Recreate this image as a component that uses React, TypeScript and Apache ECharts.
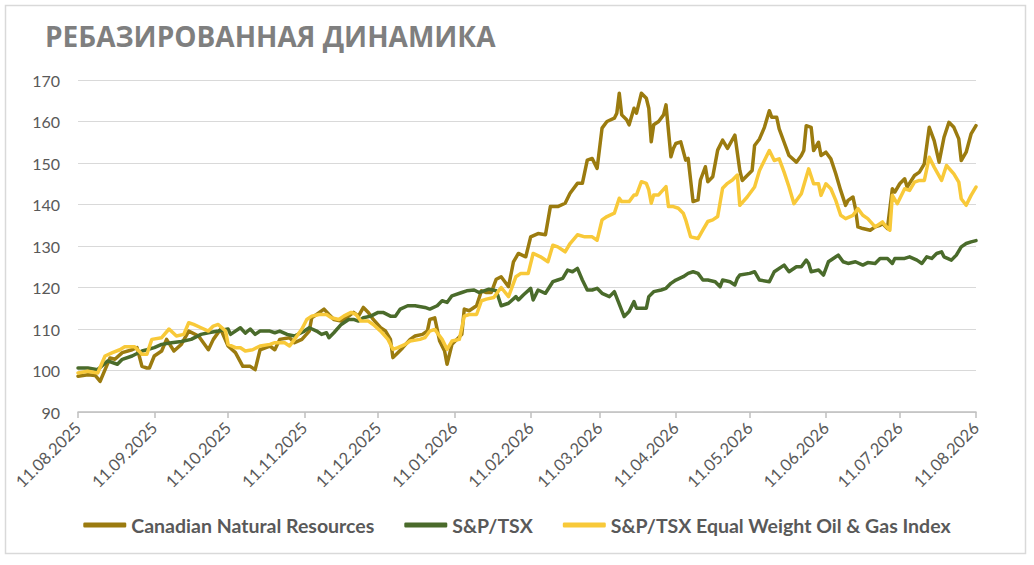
import React, { useEffect, useRef } from "react";
import * as echarts from "echarts";

const TITLE = "РЕБАЗИРОВАННАЯ ДИНАМИКА";
const SERIES_NAMES = ["Canadian Natural Resources", "S&P/TSX", "S&P/TSX Equal Weight Oil & Gas Index"];
const COLORS = ["#9B7B0F", "#4A6B2B", "#F8C939"];
const START_UTC = Date.UTC(2025, 7, 11);
const DAY_COUNT = 366;
const Y_MIN = 90;
const Y_MAX = 170;
const Y_STEP = 10;

// day offsets from 11.08.2025 and values
const cnrDays = [0,4,7,9,11,13,15,18,22,24,26,28,29,31,34,36,39,42,45,49,53,55,58,61,64,67,70,72,74,78,80,82,86,88,91,94,95,97,100,102,104,107,110,112,114,116,118,120,123,125,127,128,130,132,135,137,140,142,143,145,146,147,149,150,152,154,156,157,159,162,164,166,168,170,172,175,177,179,182,184,187,190,192,195,198,200,203,205,207,209,211,213,215,218,219,220,221,223,224,226,227,229,231,232,233,234,236,238,239,241,242,243,245,247,248,250,252,253,255,256,258,260,262,264,267,269,270,274,275,277,279,281,282,284,285,287,289,292,294,295,296,298,299,301,302,304,306,308,310,312,313,315,316,317,319,322,324,326,327,329,331,332,334,336,337,340,342,344,346,348,350,352,354,356,358,359,361,363,365];
const cnrValues = [98.6,99,98.8,97.4,100.2,103,102.7,104.3,105,105.5,101,100.6,100.6,103.5,104.7,107.5,104.7,106.3,109.5,108.3,105,107.5,110,105.9,104.3,101,101,100.2,105,105.9,105,107.5,107.9,106.7,107.5,109.5,112.7,113.5,114.8,113.5,112.3,111.9,113.1,114,113.1,115.2,114,112.3,110.3,109.5,107.5,103.1,104.3,105.5,107.5,108.3,108.7,109.5,112.3,112.7,109.9,107.1,104.7,101.5,106.3,107.5,108.7,114.8,114.4,115.6,119.2,118.8,118.8,122,122.6,120.2,126.2,128.2,127.4,132.2,133,132.7,139.5,139.5,140.3,142.7,145.1,145.1,150.7,151.1,148.7,158.4,160,160.8,162,166.8,161.6,160.4,159.2,163.2,162,166.8,165.6,163.2,155.1,159.2,160,161.6,164,151.5,153.5,154.7,155.1,150.7,151.1,140.7,141.1,145.9,149.1,145.5,146.7,153.1,155.5,153.5,156.7,148.2,145.8,148.2,154.2,155.8,158.6,162.6,161,161,158.2,155,151.8,150.2,151.8,153,159,158.6,153,155,151.8,152.6,151,147.4,143.4,139.8,141,141.8,139,134.6,134.2,133.8,134.6,135,135.4,134.2,143.8,143,145,146.2,144.2,147,147.8,149.8,158.6,155.4,150.2,156.2,159.8,158.6,155.8,150.6,152.6,157,159];

const tsxDays = [0,4,8,12,16,18,22,26,28,31,34,38,42,46,50,53,57,61,62,66,68,70,72,74,78,80,82,85,88,92,94,97,99,101,102,104,107,110,112,114,116,119,122,124,127,129,131,134,137,141,143,146,148,150,152,156,158,161,163,165,167,170,172,175,178,179,181,184,185,187,190,193,195,197,199,201,203,205,207,209,211,213,216,218,222,224,226,227,229,231,232,234,237,239,241,243,246,248,250,252,254,256,259,261,262,265,267,268,269,273,275,277,281,283,287,289,292,294,296,297,298,301,303,305,307,309,311,313,316,319,321,324,326,329,331,332,336,338,341,343,345,347,349,351,352,355,357,359,361,363,365];
const tsxValues = [100.6,100.6,100.2,102.3,101.5,102.7,103.5,104.7,105,105.5,106.3,106.7,107,107.5,108.7,109.1,109.5,110,108.7,110.3,109,110,108.7,109.5,109.5,109.1,109.5,108.7,108.3,109.5,110.3,109.5,108.7,109.1,107.9,109.1,111.1,112.3,112.3,111.9,112.7,113.1,114,114,113.1,113.1,114.8,115.6,115.6,115.2,114.8,115.6,116.8,116.4,118,118.8,119.2,119.4,118.8,119.2,119.6,119.2,115.6,116.2,117.8,117,118.2,119.8,117,119.4,118.6,121.4,121.8,122.2,124.2,123.8,124.6,121.8,119.4,119.4,119.8,118.6,117.8,119,113,114.2,116.6,115,115,115,117.8,119,119.4,119.8,121,121.8,122.6,123.4,123.8,123.4,121.8,121.8,121.4,120.2,121.8,121.4,120.6,122.2,123,123.4,123.8,121.8,121.4,123.8,125.4,123.8,125,125,126.6,125.8,123.8,124.2,123,126.2,127,127.8,126.2,125.8,126.2,125.4,126,125.8,127,127,125.8,127,127,127.4,126.6,125.8,127.4,127,128.2,128.6,127.4,126.6,127.8,129.8,130.6,131,131.3];

const oilDays = [0,4,8,11,14,17,19,23,26,28,30,34,37,40,43,45,47,50,53,55,57,60,61,64,66,68,71,74,78,80,84,86,88,91,93,95,98,101,103,106,108,111,113,115,118,120,123,126,128,130,133,135,139,141,143,145,146,148,150,152,155,157,159,162,164,166,169,171,172,175,178,180,183,185,188,191,193,195,198,200,203,206,209,211,213,215,218,220,221,224,226,227,229,231,232,233,234,236,239,240,242,244,246,247,249,252,254,256,258,260,262,264,266,268,269,272,275,277,279,281,283,285,287,289,291,294,296,297,299,301,302,304,306,308,310,312,315,317,319,321,324,327,328,330,331,333,336,338,340,342,344,346,348,351,353,356,358,359,361,363,365];
const oilValues = [99.4,99.8,99.4,103.5,104.3,105,105.7,105.7,103.9,103.9,107.5,107.9,110,108.3,108.7,111.5,111.1,110.3,109.5,110.7,111.1,109.5,106.3,105.5,105.5,104.7,105,105.9,106.3,106.7,106.7,105.9,107.5,110,112.3,113.1,113.5,113.5,112.7,112.3,113.1,114,113.5,111.9,111.9,111.1,109.5,107.5,105.1,105.5,106.3,107.1,107.5,107.9,109.5,109.9,109.1,107.5,105.1,107.1,107.5,113.1,113.5,113.5,116.8,117.2,117.6,119.2,120,117.8,122.6,123.4,123.4,128.2,127.4,126.2,130.2,129.8,128.6,130.6,132.7,132.2,132.2,131.4,136.3,137.1,137.9,141.5,140.7,140.7,142.3,142.3,145.5,145.1,143.5,140.3,142.3,142.3,144.3,139.5,139.5,139.1,137.9,136.3,132.2,131.8,133.9,135.9,136.3,137.1,143.9,145.1,145.9,147.1,139.8,141.8,144.2,148.2,150.6,153,150.6,151,147.8,144.2,140.2,142.6,146.6,148.6,145,145,142.2,145,143.8,141,137.4,136.6,137.4,139,137.4,136.6,134.6,135.8,135,133.8,142.2,140.2,143.8,143.4,145.4,145.8,145.8,151.4,149,145.8,149.4,147.4,145.4,141.4,139.8,142.2,144.2];

function fmtDate(d: Date): string {
  const dd = String(d.getUTCDate()).padStart(2, "0");
  const mm = String(d.getUTCMonth() + 1).padStart(2, "0");
  return `${dd}.${mm}.${d.getUTCFullYear()}`;
}

const categories: string[] = Array.from({ length: DAY_COUNT }, (_, i) =>
  fmtDate(new Date(START_UTC + i * 86400000))
);

function pairs(days: number[], values: number[]) {
  return days.map((d, i) => [categories[d], values[i]]);
}

const isMonthTick = (_idx: number, value: string) => value.startsWith("11.");

export default function App() {
  const ref = useRef<HTMLDivElement>(null);

  useEffect(() => {
    if (!ref.current) return;
    const chart = echarts.init(ref.current, undefined, { renderer: "svg" });
    const labelColor = "#595959";
    chart.setOption({
      animation: false,
      backgroundColor: "#ffffff",
      title: {
        text: TITLE,
        left: 40,
        top: 17,
        textStyle: {
          fontFamily: "Open Sans",
          fontWeight: "bold",
          fontSize: 28,
          color: "#7F7F7F",
        },
      },
      graphic: [
        {
          type: "rect",
          shape: { x: 5.5, y: 5.5, width: 1020, height: 548 },
          style: { fill: "none", stroke: "#D9D9D9", lineWidth: 1.5 },
          silent: true,
        },
      ],
      legend: {
        left: "center",
        top: 510,
        itemWidth: 43,
        itemHeight: 5,
        itemGap: 30,
        icon: "roundRect",
        textStyle: {
          fontFamily: "Lato",
          fontWeight: "bold",
          fontSize: 19.5,
          color: labelColor,
        },
        data: SERIES_NAMES,
      },
      grid: { left: 78, right: 58, top: 80, bottom: 153 },
      xAxis: {
        type: "category",
        data: categories,
        boundaryGap: false,
        axisLine: { lineStyle: { color: "#BFBFBF", width: 1.5 } },
        axisTick: {
          show: true,
          interval: isMonthTick,
          length: 6,
          lineStyle: { color: "#BFBFBF", width: 1.5 },
        },
        axisLabel: {
          interval: isMonthTick,
          rotate: 45,
          margin: 13,
          fontFamily: "Lato",
          fontSize: 16.5,
          color: labelColor,
        },
        splitLine: { show: false },
      },
      yAxis: {
        type: "value",
        min: Y_MIN,
        max: Y_MAX,
        interval: Y_STEP,
        axisLine: { show: false },
        axisTick: { show: false },
        axisLabel: {
          margin: 18,
          fontFamily: "Lato",
          fontSize: 16,
          color: labelColor,
        },
        splitLine: { lineStyle: { color: "#D9D9D9", width: 1 } },
      },
      series: [
        { days: cnrDays, values: cnrValues },
        { days: tsxDays, values: tsxValues },
        { days: oilDays, values: oilValues },
      ].map((s, i) => ({
        name: SERIES_NAMES[i],
        type: "line",
        data: pairs(s.days, s.values),
        showSymbol: false,
        symbol: "none",
        color: COLORS[i],
        lineStyle: { color: COLORS[i], width: 3.5, join: "round", cap: "round" },
      })),
    });
    return () => chart.dispose();
  }, []);

  return (
    <div
      ref={ref}
      style={{ position: "absolute", left: 0, top: 0, width: 1034, height: 565 }}
    />
  );
}
